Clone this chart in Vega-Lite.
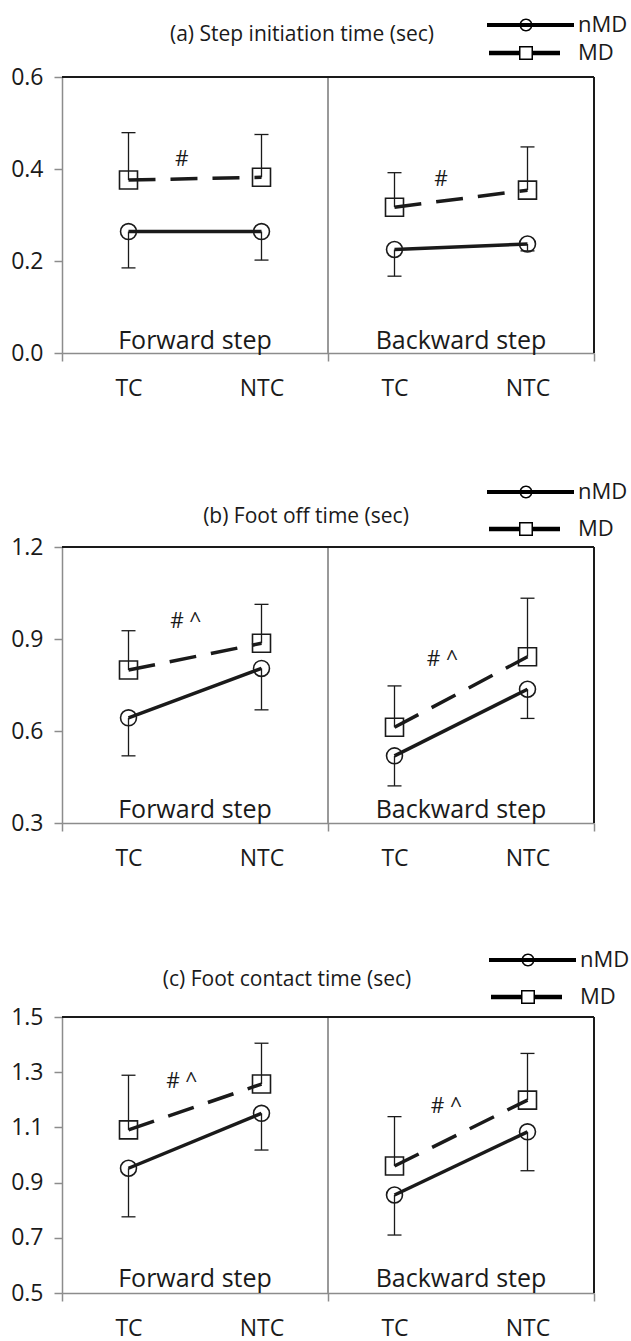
{
  "$schema": "https://vega.github.io/schema/vega-lite/v6.json",
  "padding": {"left": 10, "top": 14, "right": 2, "bottom": 1},
  "background": "white",
  "config": {
    "font": "Open Sans",
    "view": {"stroke": null},
    "axis": {"grid": false, "domainColor": "#8c8c8c", "domainWidth": 1.5, "tickColor": "#8c8c8c", "tickWidth": 1.5, "tickSize": 8, "labelFont": "Open Sans", "labelFontSize": 23, "labelColor": "#1a1a1a"},
    "axisY": {"labelPadding": 11},
    "axisX": {"labelPadding": 16, "labelFlush": false, "labelOverlap": false, "labelBound": false}
  },
  "datasets": {
    "means": [
      {"panel": "a", "step": "Forward", "cond": "TC", "group": "MD", "pos": 0.5, "mean": 0.376, "err": 0.479},
      {"panel": "a", "step": "Forward", "cond": "NTC", "group": "MD", "pos": 1.5, "mean": 0.382, "err": 0.475},
      {"panel": "a", "step": "Forward", "cond": "TC", "group": "nMD", "pos": 0.5, "mean": 0.264, "err": 0.185},
      {"panel": "a", "step": "Forward", "cond": "NTC", "group": "nMD", "pos": 1.5, "mean": 0.264, "err": 0.202},
      {"panel": "a", "step": "Backward", "cond": "TC", "group": "MD", "pos": 2.5, "mean": 0.317, "err": 0.392},
      {"panel": "a", "step": "Backward", "cond": "NTC", "group": "MD", "pos": 3.5, "mean": 0.354, "err": 0.448},
      {"panel": "a", "step": "Backward", "cond": "TC", "group": "nMD", "pos": 2.5, "mean": 0.225, "err": 0.167},
      {"panel": "a", "step": "Backward", "cond": "NTC", "group": "nMD", "pos": 3.5, "mean": 0.237, "err": 0.222},
      {"panel": "b", "step": "Forward", "cond": "TC", "group": "MD", "pos": 0.5, "mean": 0.799, "err": 0.927},
      {"panel": "b", "step": "Forward", "cond": "NTC", "group": "MD", "pos": 1.5, "mean": 0.886, "err": 1.013},
      {"panel": "b", "step": "Forward", "cond": "TC", "group": "nMD", "pos": 0.5, "mean": 0.643, "err": 0.519},
      {"panel": "b", "step": "Forward", "cond": "NTC", "group": "nMD", "pos": 1.5, "mean": 0.804, "err": 0.669},
      {"panel": "b", "step": "Backward", "cond": "TC", "group": "MD", "pos": 2.5, "mean": 0.612, "err": 0.747},
      {"panel": "b", "step": "Backward", "cond": "NTC", "group": "MD", "pos": 3.5, "mean": 0.842, "err": 1.033},
      {"panel": "b", "step": "Backward", "cond": "TC", "group": "nMD", "pos": 2.5, "mean": 0.519, "err": 0.421},
      {"panel": "b", "step": "Backward", "cond": "NTC", "group": "nMD", "pos": 3.5, "mean": 0.736, "err": 0.641},
      {"panel": "c", "step": "Forward", "cond": "TC", "group": "MD", "pos": 0.5, "mean": 1.091, "err": 1.289},
      {"panel": "c", "step": "Forward", "cond": "NTC", "group": "MD", "pos": 1.5, "mean": 1.257, "err": 1.405},
      {"panel": "c", "step": "Forward", "cond": "TC", "group": "nMD", "pos": 0.5, "mean": 0.952, "err": 0.776},
      {"panel": "c", "step": "Forward", "cond": "NTC", "group": "nMD", "pos": 1.5, "mean": 1.151, "err": 1.018},
      {"panel": "c", "step": "Backward", "cond": "TC", "group": "MD", "pos": 2.5, "mean": 0.960, "err": 1.139},
      {"panel": "c", "step": "Backward", "cond": "NTC", "group": "MD", "pos": 3.5, "mean": 1.199, "err": 1.368},
      {"panel": "c", "step": "Backward", "cond": "TC", "group": "nMD", "pos": 2.5, "mean": 0.855, "err": 0.710},
      {"panel": "c", "step": "Backward", "cond": "NTC", "group": "nMD", "pos": 3.5, "mean": 1.084, "err": 0.943}
    ],
    "ann": [
      {"panel": "a", "pos": 0.9, "y": 0.42, "label": "#"},
      {"panel": "a", "pos": 2.85, "y": 0.376, "label": "#"},
      {"panel": "b", "pos": 0.93, "y": 0.955, "label": "# ^"},
      {"panel": "b", "pos": 2.86, "y": 0.832, "label": "# ^"},
      {"panel": "c", "pos": 0.9, "y": 1.264, "label": "# ^"},
      {"panel": "c", "pos": 2.89, "y": 1.174, "label": "# ^"}
    ],
    "steps": [
      {"pos": 1, "label": "Forward step"},
      {"pos": 3, "label": "Backward step"}
    ]
  },
  "bounds": "flush",
  "spacing": 194,
  "resolve": {"scale": {"y": "independent", "shape": "independent"}, "legend": {"shape": "independent"}},
  "vconcat": [
    {
      "width": 532, "height": 276,
      "title": {"text": "(a) Step initiation time (sec)", "frame": "group", "anchor": "middle", "dx": -26, "offset": -48, "baseline": "alphabetic", "fontSize": 21, "fontWeight": "normal", "color": "#1a1a1a", "font": "Open Sans"},
      "layer": [
        {"data": {"name": "means"}, "transform": [{"filter": "datum.panel === 'a'"}],
         "mark": {"type": "rule", "strokeWidth": 1.3, "color": "#1a1a1a"},
         "encoding": {
           "x": {"field": "pos", "type": "quantitative", "scale": {"domain": [0, 4], "nice": false, "zero": false},
                 "axis": {"title": null, "values": [0, 0.5, 1.5, 2, 2.5, 3.5, 4], "labelExpr": "datum.value == 0.5 || datum.value == 2.5 ? 'TC' : (datum.value == 1.5 || datum.value == 3.5 ? 'NTC' : '')", "tickOpacity": {"condition": {"test": "datum.value % 2 == 0", "value": 1}, "value": 0}}},
           "y": {"field": "mean", "type": "quantitative", "scale": {"domain": [0, 0.6], "nice": false, "zero": false},
                 "axis": {"title": null, "values": [0, 0.2, 0.4, 0.6], "format": ".1f"}},
           "y2": {"field": "err"}
         }},
        {"data": {"name": "means"}, "transform": [{"filter": "datum.panel === 'a'"}],
         "mark": {"type": "tick", "orient": "horizontal", "size": 14, "thickness": 1.3, "color": "#1a1a1a", "opacity": 1},
         "encoding": {"x": {"field": "pos", "type": "quantitative"}, "y": {"field": "err", "type": "quantitative"}}},
        {"data": {"name": "means"}, "transform": [{"filter": "datum.panel === 'a'"}],
         "mark": {"type": "rule", "color": "#999999", "strokeWidth": 1.2},
         "encoding": {"x": {"datum": 2, "type": "quantitative"}}},
        {"data": {"name": "means"}, "transform": [{"filter": "datum.panel === 'a' && datum.group === 'nMD'"}],
         "mark": {"type": "line", "strokeWidth": 3.5, "color": "#1a1a1a"},
         "encoding": {"x": {"field": "pos", "type": "quantitative"}, "y": {"field": "mean", "type": "quantitative"}, "detail": {"field": "step"}}},
        {"data": {"name": "means"}, "transform": [{"filter": "datum.panel === 'a' && datum.group === 'MD'"}],
         "mark": {"type": "line", "strokeWidth": 3.5, "color": "#1a1a1a", "strokeDash": [27, 15]},
         "encoding": {"x": {"field": "pos", "type": "quantitative"}, "y": {"field": "mean", "type": "quantitative"}, "detail": {"field": "step"}}},
        {"data": {"name": "means"}, "transform": [{"filter": "datum.panel === 'a' && datum.group === 'nMD'"}],
         "mark": {"type": "point", "shape": "circle", "filled": false, "size": 254, "strokeWidth": 1.6, "color": "#1a1a1a", "opacity": 1},
         "encoding": {"x": {"field": "pos", "type": "quantitative"}, "y": {"field": "mean", "type": "quantitative"}}},
        {"data": {"name": "means"}, "transform": [{"filter": "datum.panel === 'a' && datum.group === 'MD'"}],
         "mark": {"type": "point", "shape": "square", "filled": false, "size": 324, "strokeWidth": 1.6, "color": "#1a1a1a", "opacity": 1},
         "encoding": {"x": {"field": "pos", "type": "quantitative"}, "y": {"field": "mean", "type": "quantitative"}}},
        {"data": {"name": "ann"}, "transform": [{"filter": "datum.panel === 'a'"}],
         "mark": {"type": "text", "fontSize": 21, "font": "Open Sans", "color": "#1a1a1a", "baseline": "middle", "align": "center"},
         "encoding": {"x": {"field": "pos", "type": "quantitative"}, "y": {"field": "y", "type": "quantitative"}, "text": {"field": "label"}}},
        {"data": {"name": "steps"},
         "mark": {"type": "text", "fontSize": 25, "font": "Open Sans", "color": "#1a1a1a", "baseline": "alphabetic", "align": "center", "dy": -4},
         "encoding": {"x": {"field": "pos", "type": "quantitative"}, "y": {"datum": 0, "type": "quantitative"}, "text": {"field": "label"}}},
        {"data": {"name": "steps"},
         "mark": {"type": "rule", "color": "#1a1a1a", "strokeWidth": 2},
         "encoding": {"y": {"datum": 0.6, "type": "quantitative"}}},
        {"data": {"name": "steps"},
         "mark": {"type": "rule", "color": "#1a1a1a", "strokeWidth": 2},
         "encoding": {"x": {"datum": 4, "type": "quantitative"}}},
        {"data": {"name": "means"}, "transform": [{"filter": "datum.panel === 'a'"}],
         "mark": {"type": "point", "filled": true, "color": "black", "opacity": 0, "size": 1},
         "encoding": {"x": {"field": "pos", "type": "quantitative"}, "y": {"field": "mean", "type": "quantitative"},
           "shape": {"field": "group", "type": "nominal",
             "scale": {"domain": ["nMD", "MD"], "range": ["M-3.9,-0.2H4.8V0.2H-3.9Z M-0.65,0A0.65,0.65,0,1,1,0.65,0A0.65,0.65,0,1,1,-0.65,0Z M-0.5,0A0.5,0.5,0,1,0,0.5,0A0.5,0.5,0,1,0,-0.5,0Z", "M-3.7,-0.22H-0.7V0.22H-3.7Z M0.7,-0.22H3.4V0.22H0.7Z M-0.7,-0.7H0.7V0.7H-0.7Z M-0.55,-0.55V0.55H0.55V-0.55Z"]},
             "legend": {"orient": "none", "legendX": 453, "legendY": -63, "title": null, "symbolSize": 400, "symbolOpacity": 1, "symbolStrokeWidth": 0, "symbolFillColor": "black", "labelFont": "Open Sans", "labelFontSize": 22, "labelColor": "#1a1a1a", "labelOffset": 41, "rowPadding": 6, "padding": 0}}}}
      ]
    },
    {
      "width": 532, "height": 276,
      "title": {"text": "(b) Foot off time (sec)", "frame": "group", "anchor": "middle", "dx": -22, "offset": -63, "baseline": "alphabetic", "fontSize": 21, "fontWeight": "normal", "color": "#1a1a1a", "font": "Open Sans"},
      "layer": [
        {"data": {"name": "means"}, "transform": [{"filter": "datum.panel === 'b'"}],
         "mark": {"type": "rule", "strokeWidth": 1.3, "color": "#1a1a1a"},
         "encoding": {
           "x": {"field": "pos", "type": "quantitative", "scale": {"domain": [0, 4], "nice": false, "zero": false},
                 "axis": {"title": null, "values": [0, 0.5, 1.5, 2, 2.5, 3.5, 4], "labelExpr": "datum.value == 0.5 || datum.value == 2.5 ? 'TC' : (datum.value == 1.5 || datum.value == 3.5 ? 'NTC' : '')", "tickOpacity": {"condition": {"test": "datum.value % 2 == 0", "value": 1}, "value": 0}}},
           "y": {"field": "mean", "type": "quantitative", "scale": {"domain": [0.3, 1.2], "nice": false, "zero": false},
                 "axis": {"title": null, "values": [0.3, 0.6, 0.9, 1.2], "format": ".1f"}},
           "y2": {"field": "err"}
         }},
        {"data": {"name": "means"}, "transform": [{"filter": "datum.panel === 'b'"}],
         "mark": {"type": "tick", "orient": "horizontal", "size": 14, "thickness": 1.3, "color": "#1a1a1a", "opacity": 1},
         "encoding": {"x": {"field": "pos", "type": "quantitative"}, "y": {"field": "err", "type": "quantitative"}}},
        {"data": {"name": "means"}, "transform": [{"filter": "datum.panel === 'b'"}],
         "mark": {"type": "rule", "color": "#999999", "strokeWidth": 1.2},
         "encoding": {"x": {"datum": 2, "type": "quantitative"}}},
        {"data": {"name": "means"}, "transform": [{"filter": "datum.panel === 'b' && datum.group === 'nMD'"}],
         "mark": {"type": "line", "strokeWidth": 3.5, "color": "#1a1a1a"},
         "encoding": {"x": {"field": "pos", "type": "quantitative"}, "y": {"field": "mean", "type": "quantitative"}, "detail": {"field": "step"}}},
        {"data": {"name": "means"}, "transform": [{"filter": "datum.panel === 'b' && datum.group === 'MD'"}],
         "mark": {"type": "line", "strokeWidth": 3.5, "color": "#1a1a1a", "strokeDash": [27, 15]},
         "encoding": {"x": {"field": "pos", "type": "quantitative"}, "y": {"field": "mean", "type": "quantitative"}, "detail": {"field": "step"}}},
        {"data": {"name": "means"}, "transform": [{"filter": "datum.panel === 'b' && datum.group === 'nMD'"}],
         "mark": {"type": "point", "shape": "circle", "filled": false, "size": 254, "strokeWidth": 1.6, "color": "#1a1a1a", "opacity": 1},
         "encoding": {"x": {"field": "pos", "type": "quantitative"}, "y": {"field": "mean", "type": "quantitative"}}},
        {"data": {"name": "means"}, "transform": [{"filter": "datum.panel === 'b' && datum.group === 'MD'"}],
         "mark": {"type": "point", "shape": "square", "filled": false, "size": 324, "strokeWidth": 1.6, "color": "#1a1a1a", "opacity": 1},
         "encoding": {"x": {"field": "pos", "type": "quantitative"}, "y": {"field": "mean", "type": "quantitative"}}},
        {"data": {"name": "ann"}, "transform": [{"filter": "datum.panel === 'b'"}],
         "mark": {"type": "text", "fontSize": 21, "font": "Open Sans", "color": "#1a1a1a", "baseline": "middle", "align": "center"},
         "encoding": {"x": {"field": "pos", "type": "quantitative"}, "y": {"field": "y", "type": "quantitative"}, "text": {"field": "label"}}},
        {"data": {"name": "steps"},
         "mark": {"type": "text", "fontSize": 25, "font": "Open Sans", "color": "#1a1a1a", "baseline": "alphabetic", "align": "center", "dy": -5},
         "encoding": {"x": {"field": "pos", "type": "quantitative"}, "y": {"datum": 0.3, "type": "quantitative"}, "text": {"field": "label"}}},
        {"data": {"name": "steps"},
         "mark": {"type": "rule", "color": "#1a1a1a", "strokeWidth": 2},
         "encoding": {"y": {"datum": 1.2, "type": "quantitative"}}},
        {"data": {"name": "steps"},
         "mark": {"type": "rule", "color": "#1a1a1a", "strokeWidth": 2},
         "encoding": {"x": {"datum": 4, "type": "quantitative"}}},
        {"data": {"name": "means"}, "transform": [{"filter": "datum.panel === 'b'"}],
         "mark": {"type": "point", "filled": true, "color": "black", "opacity": 0, "size": 1},
         "encoding": {"x": {"field": "pos", "type": "quantitative"}, "y": {"field": "mean", "type": "quantitative"},
           "shape": {"field": "group", "type": "nominal",
             "scale": {"domain": ["nMD", "MD"], "range": ["M-3.9,-0.2H4.8V0.2H-3.9Z M-0.65,0A0.65,0.65,0,1,1,0.65,0A0.65,0.65,0,1,1,-0.65,0Z M-0.5,0A0.5,0.5,0,1,0,0.5,0A0.5,0.5,0,1,0,-0.5,0Z", "M-3.7,-0.22H-0.7V0.22H-3.7Z M0.7,-0.22H3.4V0.22H0.7Z M-0.7,-0.7H0.7V0.7H-0.7Z M-0.55,-0.55V0.55H0.55V-0.55Z"]},
             "legend": {"orient": "none", "legendX": 453, "legendY": -66, "title": null, "symbolSize": 400, "symbolOpacity": 1, "symbolStrokeWidth": 0, "symbolFillColor": "black", "labelFont": "Open Sans", "labelFontSize": 22, "labelColor": "#1a1a1a", "labelOffset": 41, "rowPadding": 15, "padding": 0}}}}
      ]
    },
    {
      "width": 532, "height": 276,
      "title": {"text": "(c) Foot contact time (sec)", "frame": "group", "anchor": "middle", "dx": -41, "offset": -58, "baseline": "alphabetic", "fontSize": 21, "fontWeight": "normal", "color": "#1a1a1a", "font": "Open Sans"},
      "layer": [
        {"data": {"name": "means"}, "transform": [{"filter": "datum.panel === 'c'"}],
         "mark": {"type": "rule", "strokeWidth": 1.3, "color": "#1a1a1a"},
         "encoding": {
           "x": {"field": "pos", "type": "quantitative", "scale": {"domain": [0, 4], "nice": false, "zero": false},
                 "axis": {"title": null, "values": [0, 0.5, 1.5, 2, 2.5, 3.5, 4], "labelExpr": "datum.value == 0.5 || datum.value == 2.5 ? 'TC' : (datum.value == 1.5 || datum.value == 3.5 ? 'NTC' : '')", "tickOpacity": {"condition": {"test": "datum.value % 2 == 0", "value": 1}, "value": 0}}},
           "y": {"field": "mean", "type": "quantitative", "scale": {"domain": [0.5, 1.5], "nice": false, "zero": false},
                 "axis": {"title": null, "values": [0.5, 0.7, 0.9, 1.1, 1.3, 1.5], "format": ".1f"}},
           "y2": {"field": "err"}
         }},
        {"data": {"name": "means"}, "transform": [{"filter": "datum.panel === 'c'"}],
         "mark": {"type": "tick", "orient": "horizontal", "size": 14, "thickness": 1.3, "color": "#1a1a1a", "opacity": 1},
         "encoding": {"x": {"field": "pos", "type": "quantitative"}, "y": {"field": "err", "type": "quantitative"}}},
        {"data": {"name": "means"}, "transform": [{"filter": "datum.panel === 'c'"}],
         "mark": {"type": "rule", "color": "#999999", "strokeWidth": 1.2},
         "encoding": {"x": {"datum": 2, "type": "quantitative"}}},
        {"data": {"name": "means"}, "transform": [{"filter": "datum.panel === 'c' && datum.group === 'nMD'"}],
         "mark": {"type": "line", "strokeWidth": 3.5, "color": "#1a1a1a"},
         "encoding": {"x": {"field": "pos", "type": "quantitative"}, "y": {"field": "mean", "type": "quantitative"}, "detail": {"field": "step"}}},
        {"data": {"name": "means"}, "transform": [{"filter": "datum.panel === 'c' && datum.group === 'MD'"}],
         "mark": {"type": "line", "strokeWidth": 3.5, "color": "#1a1a1a", "strokeDash": [27, 15]},
         "encoding": {"x": {"field": "pos", "type": "quantitative"}, "y": {"field": "mean", "type": "quantitative"}, "detail": {"field": "step"}}},
        {"data": {"name": "means"}, "transform": [{"filter": "datum.panel === 'c' && datum.group === 'nMD'"}],
         "mark": {"type": "point", "shape": "circle", "filled": false, "size": 254, "strokeWidth": 1.6, "color": "#1a1a1a", "opacity": 1},
         "encoding": {"x": {"field": "pos", "type": "quantitative"}, "y": {"field": "mean", "type": "quantitative"}}},
        {"data": {"name": "means"}, "transform": [{"filter": "datum.panel === 'c' && datum.group === 'MD'"}],
         "mark": {"type": "point", "shape": "square", "filled": false, "size": 324, "strokeWidth": 1.6, "color": "#1a1a1a", "opacity": 1},
         "encoding": {"x": {"field": "pos", "type": "quantitative"}, "y": {"field": "mean", "type": "quantitative"}}},
        {"data": {"name": "ann"}, "transform": [{"filter": "datum.panel === 'c'"}],
         "mark": {"type": "text", "fontSize": 21, "font": "Open Sans", "color": "#1a1a1a", "baseline": "middle", "align": "center"},
         "encoding": {"x": {"field": "pos", "type": "quantitative"}, "y": {"field": "y", "type": "quantitative"}, "text": {"field": "label"}}},
        {"data": {"name": "steps"},
         "mark": {"type": "text", "fontSize": 25, "font": "Open Sans", "color": "#1a1a1a", "baseline": "alphabetic", "align": "center", "dy": -6},
         "encoding": {"x": {"field": "pos", "type": "quantitative"}, "y": {"datum": 0.5, "type": "quantitative"}, "text": {"field": "label"}}},
        {"data": {"name": "steps"},
         "mark": {"type": "rule", "color": "#1a1a1a", "strokeWidth": 2},
         "encoding": {"y": {"datum": 1.5, "type": "quantitative"}}},
        {"data": {"name": "steps"},
         "mark": {"type": "rule", "color": "#1a1a1a", "strokeWidth": 2},
         "encoding": {"x": {"datum": 4, "type": "quantitative"}}},
        {"data": {"name": "means"}, "transform": [{"filter": "datum.panel === 'c'"}],
         "mark": {"type": "point", "filled": true, "color": "black", "opacity": 0, "size": 1},
         "encoding": {"x": {"field": "pos", "type": "quantitative"}, "y": {"field": "mean", "type": "quantitative"},
           "shape": {"field": "group", "type": "nominal",
             "scale": {"domain": ["nMD", "MD"], "range": ["M-3.9,-0.2H4.8V0.2H-3.9Z M-0.65,0A0.65,0.65,0,1,1,0.65,0A0.65,0.65,0,1,1,-0.65,0Z M-0.5,0A0.5,0.5,0,1,0,0.5,0A0.5,0.5,0,1,0,-0.5,0Z", "M-3.7,-0.22H-0.7V0.22H-3.7Z M0.7,-0.22H3.4V0.22H0.7Z M-0.7,-0.7H0.7V0.7H-0.7Z M-0.55,-0.55V0.55H0.55V-0.55Z"]},
             "legend": {"orient": "none", "legendX": 455, "legendY": -68, "title": null, "symbolSize": 400, "symbolOpacity": 1, "symbolStrokeWidth": 0, "symbolFillColor": "black", "labelFont": "Open Sans", "labelFontSize": 22, "labelColor": "#1a1a1a", "labelOffset": 41, "rowPadding": 15, "padding": 0}}}}
      ]
    }
  ]
}
